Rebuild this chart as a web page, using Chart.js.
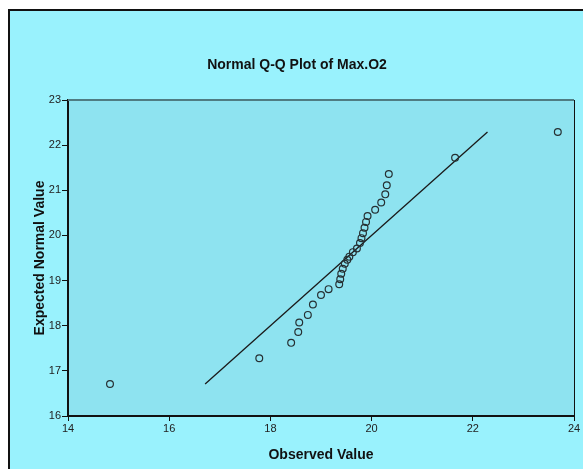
<!DOCTYPE html>
<html lang="en">
<head>
    <meta charset="UTF-8">
    <title>Normal Q-Q Plot of Max.O2</title>
    <script src="https://cdn.jsdelivr.net/npm/chart.js"></script>
    <style>
        body { margin: 0; background: #fff; }
        #wrap { width: 583px; height: 469px; }
    </style>
</head>
<body>
    <div id="wrap"><canvas id="qq" width="583" height="469"></canvas></div>

    <script>
        const observed = [14.83, 17.78, 18.41, 18.55, 18.57, 18.74, 18.84, 19.00, 19.15, 19.36,
                          19.38, 19.40, 19.43, 19.47, 19.52, 19.56, 19.63, 19.71, 19.77, 19.80,
                          19.83, 19.86, 19.89, 19.92, 20.07, 20.19, 20.27, 20.30, 20.34, 21.65, 23.68];
        const expected = [16.71, 17.28, 17.62, 17.86, 18.07, 18.24, 18.47, 18.68, 18.81, 18.92,
                          19.03, 19.15, 19.26, 19.37, 19.46, 19.53, 19.63, 19.71, 19.83, 19.94,
                          20.05, 20.17, 20.30, 20.43, 20.57, 20.73, 20.91, 21.11, 21.36, 21.72, 22.29];
        // reference line y = x
        const lineX = [16.71, 22.29];
        const lineY = [16.71, 22.29];

        const xTicks = [14, 16, 18, 20, 22, 24];
        const yTicks = [16, 17, 18, 19, 20, 21, 22, 23];

        const frame = {
            id: 'frame',
            beforeDraw(chart) {
                const c = chart.ctx, a = chart.chartArea;
                c.save();
                c.fillStyle = '#ffffff';
                c.fillRect(0, 0, chart.width, chart.height);
                c.fillStyle = '#99f2fd';
                c.fillRect(8, 9, chart.width, chart.height);
                c.strokeStyle = '#111';
                c.lineWidth = 2;
                c.strokeRect(9, 10, chart.width + 10, chart.height + 10);
                c.fillStyle = '#8ee3f0';
                c.fillRect(a.left, a.top, a.right - a.left, a.bottom - a.top);
                c.fillStyle = '#111';
                c.font = 'bold 14px Arial, "Liberation Sans", sans-serif';
                c.textAlign = 'center';
                c.textBaseline = 'middle';
                c.fillText('Normal Q-Q Plot of Max.O2', 297, 65);
                c.restore();
            },
            afterDraw(chart) {
                const c = chart.ctx, a = chart.chartArea;
                c.save();
                c.strokeStyle = '#4f7c82';
                c.lineWidth = 2;
                c.beginPath();
                c.moveTo(a.left, a.top);
                c.lineTo(a.right, a.top);
                c.stroke();
                c.strokeStyle = '#111';
                c.lineWidth = 1;
                c.beginPath();
                c.moveTo(a.right + 0.5, a.top);
                c.lineTo(a.right + 0.5, a.bottom);
                c.stroke();
                c.restore();
            }
        };

        const tickFont = { family: 'Arial, "Liberation Sans", sans-serif', size: 11 };
        const titleFont = { family: 'Arial, "Liberation Sans", sans-serif', size: 14, weight: 'bold' };

        new Chart(document.getElementById('qq'), {
            type: 'scatter',
            data: {
                datasets: [{
                    data: observed.map((x, i) => ({ x: x, y: expected[i] })),
                    pointRadius: 3.4,
                    pointBorderWidth: 1.2,
                    pointBorderColor: '#263033',
                    pointBackgroundColor: 'rgba(0,0,0,0)',
                    pointHoverRadius: 3.4
                }, {
                    type: 'line',
                    data: lineX.map((x, i) => ({ x: x, y: lineY[i] })),
                    borderColor: '#1a1a1a',
                    borderWidth: 1.3,
                    pointRadius: 0,
                    fill: false
                }]
            },
            options: {
                responsive: false,
                animation: false,
                layout: { padding: { left: 0, right: 9, top: 100, bottom: 0 } },
                plugins: { legend: { display: false }, tooltip: { enabled: false } },
                scales: {
                    x: {
                        type: 'linear',
                        min: 14, max: 24,
                        afterFit: s => { s.height = 53; },
                        afterBuildTicks: s => { s.ticks = xTicks.map(v => ({ value: v })); },
                        ticks: { color: '#222', font: tickFont, padding: 1, maxRotation: 0 },
                        grid: { drawOnChartArea: false, drawTicks: true, tickLength: 5, color: '#111' },
                        border: { color: '#111', width: 2 },
                        title: { display: true, text: 'Observed Value', color: '#111', font: titleFont, padding: { top: 0, bottom: 5 } }
                    },
                    y: {
                        type: 'linear',
                        min: 16, max: 23,
                        afterFit: s => { s.width = 68; },
                        afterBuildTicks: s => { s.ticks = yTicks.map(v => ({ value: v })); },
                        ticks: { color: '#222', font: tickFont, padding: 1 },
                        grid: { drawOnChartArea: false, drawTicks: true, tickLength: 6, color: '#111' },
                        border: { color: '#111', width: 2 },
                        title: { display: true, text: 'Expected Normal Value', color: '#111', font: titleFont, padding: { top: 32, bottom: 0 } }
                    }
                }
            },
            plugins: [frame]
        });
    </script>
</body>
</html>
